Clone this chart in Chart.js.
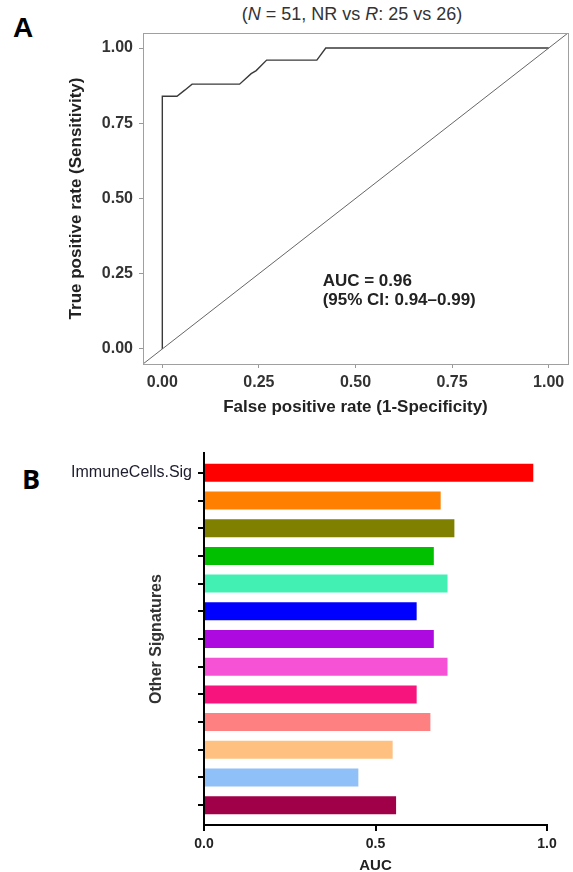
<!DOCTYPE html>
<html>
<head>
<meta charset="utf-8">
<script src="https://cdn.jsdelivr.net/npm/chart.js@4.4.1/dist/chart.umd.min.js"></script>
<style>
  html, body { margin: 0; padding: 0; background: #fff; }
  body { width: 573px; height: 872px; position: relative; overflow: hidden; font-family: "Liberation Sans", Arial, sans-serif; }
  .lbl { position: absolute; line-height: 1; white-space: nowrap; }
  canvas { position: absolute; left: 0; }
</style>
</head>
<body>
<div class="lbl" id="labA" style="left:13px; top:14px; font: bold 28px 'Liberation Sans', Arial, sans-serif; line-height:1; color:#000;">A</div>
<div class="lbl" id="titleA" style="left:352px; top:5px; transform:translateX(-50%); font: 18px 'Liberation Sans', Arial, sans-serif; line-height:1; color:#333;">(<i>N</i> = 51, NR vs <i>R</i>: 25 vs 26)</div>
<div class="lbl" id="labB" style="left:22px; top:465px; font: bold 27px 'Open Sans', sans-serif; line-height:1; color:#000;">B</div>
<canvas id="cA" width="573" height="430" style="top:0px;"></canvas>
<canvas id="cB" width="573" height="442" style="top:430px;"></canvas>
<script>
// ---------- Panel A data (ROC curve) ----------
const rocFPR = [0, 0, 0.038, 0.058, 0.077, 0.200, 0.230, 0.243, 0.270, 0.400, 0.423, 1.0];
const rocTPR = [0, 0.84, 0.84, 0.86, 0.88, 0.88, 0.915, 0.925, 0.96, 0.96, 1.0, 1.0];
const refLineX = [-0.05, 1.05];
const refLineY = [-0.05, 1.05];
const rocTicks = [0, 0.25, 0.5, 0.75, 1.0];
const aucText = ['AUC = 0.96', '(95% CI: 0.94\u20130.99)'];
const aucPos = { x: 0.415, y: [0.226, 0.160] };

// ---------- Panel B data (AUC bars) ----------
const sigLabels = ['ImmuneCells.Sig', '', '', '', '', '', '', '', '', '', '', '', ''];
const sigAUC = [0.96, 0.69, 0.73, 0.67, 0.71, 0.62, 0.67, 0.71, 0.62, 0.66, 0.55, 0.45, 0.56];
const sigColors = ['#FF0000', '#FF8000', '#808000', '#00C000', '#42F0B4', '#0000FF', '#AD0AE0',
                   '#F552D5', '#F7157D', '#FF8080', '#FFC080', '#90C0F8', '#A00048'];
const aucTicks = [0, 0.5, 1.0];

Chart.defaults.font.family = "'Liberation Sans', Arial, sans-serif";
Chart.defaults.animation = false;

const boxPlugin = {
  id: 'boxA',
  afterDraw(chart) {
    const { ctx, chartArea: a, scales } = chart;
    ctx.save();
    ctx.strokeStyle = '#a0a0a0';
    ctx.lineWidth = 1;
    ctx.strokeRect(Math.round(a.left) + 0.5, Math.round(a.top) + 0.5,
                   Math.round(a.right - a.left), Math.round(a.bottom - a.top));
    ctx.fillStyle = '#222';
    ctx.font = "bold 17px 'Liberation Sans', Arial, sans-serif";
    ctx.textAlign = 'left';
    ctx.textBaseline = 'middle';
    aucText.forEach((t, i) => {
      ctx.fillText(t, scales.x.getPixelForValue(aucPos.x), scales.y.getPixelForValue(aucPos.y[i]));
    });
    ctx.restore();
  }
};

new Chart(document.getElementById('cA'), {
  type: 'scatter',
  data: {
    datasets: [
      {
        data: refLineX.map((x, i) => ({ x, y: refLineY[i] })),
        showLine: true, borderColor: '#666', borderWidth: 1, pointRadius: 0
      },
      {
        data: rocFPR.map((x, i) => ({ x, y: rocTPR[i] })),
        showLine: true, borderColor: '#3a3a3a', borderWidth: 1.4, pointRadius: 0, tension: 0
      }
    ]
  },
  options: {
    responsive: false,
    layout: { padding: { top: 33, right: 5, left: 0, bottom: 0 } },
    plugins: { legend: { display: false }, tooltip: { enabled: false } },
    scales: {
      x: {
        type: 'linear', min: -0.05, max: 1.05,
        afterBuildTicks: s => { s.ticks = rocTicks.map(v => ({ value: v })); },
        afterFit: s => { s.height = 66; },
        ticks: { callback: v => Number(v).toFixed(2), font: { size: 16, weight: 'bold' }, color: '#333', padding: 5, maxRotation: 0 },
        grid: { drawOnChartArea: false, drawTicks: true, tickLength: 4, color: '#999' },
        border: { display: false },
        title: { display: true, text: 'False positive rate (1-Specificity)', font: { size: 17, weight: 'bold' }, color: '#222', padding: { top: 0, bottom: 12 } }
      },
      y: {
        type: 'linear', min: -0.05, max: 1.05,
        afterBuildTicks: s => { s.ticks = rocTicks.map(v => ({ value: v })); },
        afterFit: s => { s.width = 143; },
        ticks: { callback: v => Number(v).toFixed(2), font: { size: 16, weight: 'bold' }, color: '#333', padding: 6 },
        grid: { drawOnChartArea: false, drawTicks: true, tickLength: 4, color: '#999' },
        border: { display: false },
        title: { display: true, text: 'True positive rate (Sensitivity)', font: { size: 17, weight: 'bold' }, color: '#222', padding: { top: 66, bottom: 0 } }
      }
    }
  },
  plugins: [boxPlugin]
});

new Chart(document.getElementById('cB'), {
  type: 'bar',
  data: {
    datasets: [{
      data: sigAUC.map((v, i) => ({ x: v, y: i })),
      backgroundColor: sigColors,
      borderWidth: 0,
      barPercentage: 0.65,
      categoryPercentage: 1.0
    }]
  },
  options: {
    responsive: false,
    indexAxis: 'y',
    layout: { padding: { top: 23, right: 26, left: 0, bottom: 0 } },
    plugins: { legend: { display: false }, tooltip: { enabled: false } },
    scales: {
      x: {
        type: 'linear', min: 0, max: 1.0, offset: false,
        afterBuildTicks: s => { s.ticks = aucTicks.map(v => ({ value: v })); },
        afterFit: s => { s.height = 47; },
        ticks: { callback: v => Number(v).toFixed(1), font: { size: 14, weight: 'bold' }, color: '#222', padding: 5, maxRotation: 0 },
        grid: { drawOnChartArea: false, drawTicks: true, tickLength: 6, color: '#000', lineWidth: 2, offset: false },
        border: { display: true, color: '#000', width: 2 },
        title: { display: true, text: 'AUC', font: { size: 15, weight: 'bold', lineHeight: 1 }, color: '#222', padding: { top: 0, bottom: -1 } }
      },
      y: {
        type: 'linear', min: -0.715, max: 12.715, reverse: true, offset: false,
        afterBuildTicks: s => { s.ticks = sigLabels.map((_, i) => ({ value: i })); },
        afterFit: s => { s.width = 204; },
        ticks: { callback: v => sigLabels[v] ?? '', font: { size: 16 }, color: '#1c1c2c', padding: 6, autoSkip: false },
        grid: { drawOnChartArea: false, drawTicks: true, tickLength: 6, color: '#000', lineWidth: 2, offset: false },
        border: { display: true, color: '#000', width: 2 },
        title: { display: true, text: 'Other Signatures', font: { size: 16, weight: 'bold' }, color: '#333', padding: { top: 147, bottom: 0 } }
      }
    }
  }
});
</script>
</body>
</html>
